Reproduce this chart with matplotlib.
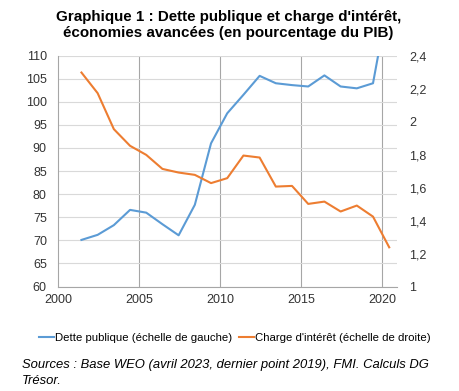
import matplotlib
matplotlib.use("Agg")
import matplotlib.pyplot as plt
import numpy as np

plt.rcParams['font.family'] = ['Liberation Sans', 'DejaVu Sans']

# donnees (annees 2001-2020)
annees = np.arange(2001, 2021)
dette = [70.1, 71.2, 73.3, 76.6, 76.0, 73.5, 71.1, 77.7, 91.0, 97.5,
         101.5, 105.6, 104.0, 103.6, 103.3, 105.7, 103.3, 102.9, 104.0, 123.0]
charge = [2.297, 2.172, 1.954, 1.853, 1.798, 1.713, 1.691, 1.677, 1.627, 1.657,
          1.794, 1.782, 1.606, 1.610, 1.501, 1.515, 1.455, 1.491, 1.424, 1.238]
ticks_x = [2000, 2005, 2010, 2015, 2020]

bleu = '#5B9BD5'
orange = '#ED7D31'

fig = plt.figure(figsize=(4.6, 3.91), dpi=100)
ax = fig.add_axes([0.126, 0.267, 0.737, 0.591])
ax2 = ax.twinx()

# points places au milieu de l'annee (axe type Excel)
x = annees + 0.45
l1, = ax.plot(x, dette, color=bleu, lw=1.5, label='Dette publique (échelle de gauche)')
l2, = ax2.plot(x, charge, color=orange, lw=1.5, label="Charge d'intérêt (échelle de droite)")

ax.set_xlim(2000, 2020.93)
ax.set_ylim(60, 110)
ax2.set_ylim(1, 2.4)
ax.set_yticks(np.arange(60, 111, 5))
ax2.set_yticks(np.arange(1, 2.41, 0.2))
ax2.set_yticklabels(['1', '1,2', '1,4', '1,6', '1,8', '2', '2,2', '2,4'])
ax.set_xticks(ticks_x)

ax.grid(axis='y', color='#d9d9d9', lw=0.8)
for t in ticks_x[1:]:
    ax.axvline(t, color='#a6a6a6', lw=0.8, zorder=0)
ax.set_axisbelow(True)

for a in (ax, ax2):
    a.spines['top'].set_visible(False)
    a.spines['right'].set_visible(False)
    a.tick_params(length=0, labelsize=9, colors='#333333')
ax.spines['left'].set_color('#a6a6a6')
ax.spines['bottom'].set_color('#a6a6a6')
ax2.spines['left'].set_visible(False)
ax2.spines['bottom'].set_visible(False)
ax.tick_params(axis='y', pad=8)
ax2.tick_params(axis='y', pad=9)
ax.tick_params(axis='x', pad=5)

fig.text(0.497, 0.975, "Graphique 1 : Dette publique et charge d'intérêt,\néconomies avancées (en pourcentage du PIB)",
         ha='center', va='top', fontsize=10.9, fontweight='bold', linespacing=1.2)

fig.legend(handles=[l1, l2], loc='center', bbox_to_anchor=(0.51, 0.135), ncol=2,
           frameon=False, fontsize=8.2, handlelength=1.3, handletextpad=0.1,
           columnspacing=0.6)

fig.text(0.047, 0.047, "Sources : Base WEO (avril 2023, dernier point 2019), FMI. Calculs DG\nTrésor.",
         ha='left', va='center', fontsize=9.35, style='italic', linespacing=1.45)

fig.savefig('out.png', dpi=100)
